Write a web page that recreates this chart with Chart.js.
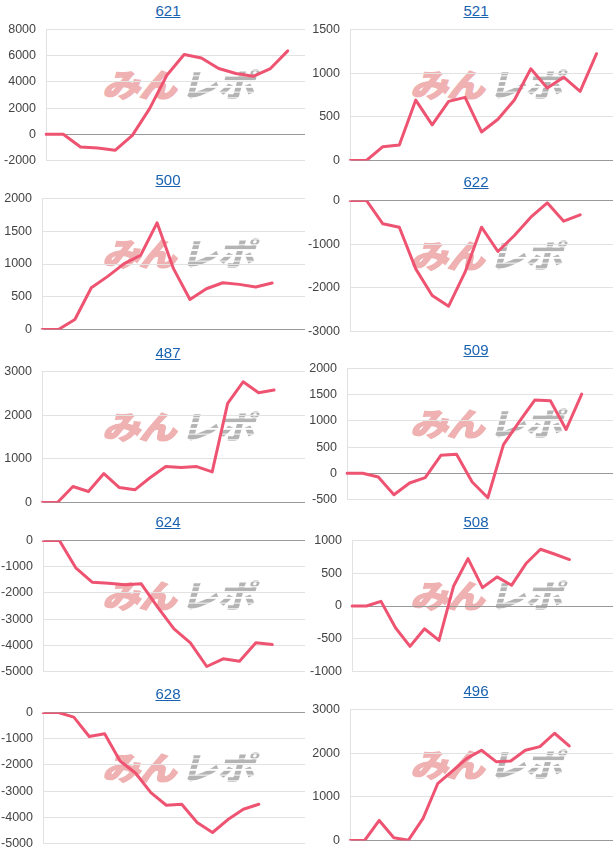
<!DOCTYPE html>
<html><head><meta charset="utf-8">
<script src="https://cdn.jsdelivr.net/npm/chart.js@4"></script>
<style>
html,body{margin:0;padding:0;background:#fff;}
body{width:616px;height:850px;position:relative;overflow:hidden;font-family:"Liberation Sans",Arial,sans-serif;}
.block{position:absolute;width:308px;height:172px;}
.title{position:absolute;left:68px;width:200px;top:2px;text-align:center;font-size:15px;line-height:18px;}
.title a{color:#1a62b0;text-decoration:underline;}
.wm{position:absolute;left:106px;top:65px;font-family:"Noto Sans CJK JP";font-weight:900;font-size:32px;line-height:36px;white-space:nowrap;transform-origin:0 50%;transform:scaleX(1.18) skewX(-13deg);letter-spacing:-1px;}
.wm .a{color:#efb1b1;-webkit-text-stroke:1.2px #efb1b1;}
.wm .b{background:repeating-linear-gradient(to bottom,#b4b4b4 0 4px,rgba(255,255,255,0) 4px 5.5px);-webkit-background-clip:text;background-clip:text;color:transparent;margin-left:4px;}
canvas{position:absolute;left:0;top:12px;}
</style></head>
<body>
<script>
const titles = ['621','521','500','622','487','509','624','508','628','496'];
const days = ['1','2','3','4','5','6','7','8','9','10','11','12','13','14','15','16','17','18','19'];
const catCounts = [16,17,17,17,18,18,17,19,18,19];
const v621 = [0,0,-970,-1045,-1220,-80,1960,4510,6090,5830,5020,4640,4430,5020,6370];
const v521 = [0,0,158,177,692,408,677,723,327,473,692,1050,831,954,792,1223];
const v500 = [0,0,153,638,811,1005,1133,1628,929,459,622,714,689,648,709];
const v622 = [0,0,-534,-611,-1565,-2176,-2420,-1641,-611,-1168,-802,-382,-53,-473,-328];
const v487 = [0,0,366,251,663,343,290,572,823,800,823,701,2270,2765,2514,2575];
const v509 = [0,0,-70,-408,-185,-83,344,363,-166,-466,548,982,1397,1384,835,1511];
const v624 = [0,0,-1043,-1590,-1628,-1692,-1654,-2545,-3372,-3906,-4809,-4517,-4606,-3906,-3969];
const v508 = [0,0,71,-332,-617,-347,-526,301,724,281,444,316,648,867,790,709];
const v628 = [0,0,-178,-914,-812,-1853,-2310,-3058,-3541,-3503,-4201,-4581,-4086,-3693,-3503];
const v496 = [0,0,459,61,8,505,1300,1591,1882,2066,1806,1821,2066,2150,2456,2165];
const yMin = [-2000,0,0,-3000,0,-500,-5000,-1000,-5000,0];
const yMax = [8000,1500,2000,0,3000,2000,0,1000,0,3000];
const yStep = [2000,500,500,1000,1000,500,1000,500,1000,1000];

const series = [v621,v521,v500,v622,v487,v509,v624,v508,v628,v496];
// layout (not data)
const colX = [0,308];
const leftTops = [0,169,342,511,683];
const rightTops = [0,171,339,511,680];
const axisW = [46,42,42,42,42,39,43,44,43,42];

for (let i = 0; i < titles.length; i++) {
  const col = i % 2, row = Math.floor(i / 2);
  const block = document.createElement('div');
  block.className = 'block';
  block.style.left = colX[col] + 'px';
  block.style.top = (col === 0 ? leftTops[row] : rightTops[row]) + 'px';
  block.innerHTML = '<div class="title"><a href="#">' + titles[i] + '</a></div>' +
    '<div class="wm"><span class="a">みん</span><span class="b">レポ</span></div>';
  const cv = document.createElement('canvas');
  cv.width = 308; cv.height = 166;
  block.appendChild(cv);
  document.body.appendChild(block);
  new Chart(cv, {
    type: 'line',
    data: {
      labels: days.slice(0, catCounts[i]),
      datasets: [{
        data: series[i],
        borderColor: '#ee5472',
        borderWidth: 3,
        pointRadius: 0,
        tension: 0,
        fill: false,
        borderJoinStyle: 'round',
        borderCapStyle: 'round'
      }]
    },
    options: {
      responsive: false,
      animation: false,
      events: [],
      layout: { padding: { left: 0, right: 3, top: 0, bottom: 0 } },
      plugins: { legend: { display: false }, tooltip: { enabled: false } },
      scales: {
        x: { type: 'category', display: false, offset: false },
        y: {
          min: yMin[i], max: yMax[i],
          ticks: { stepSize: yStep[i], color: '#444', padding: 10,
                   callback: v => String(v),
                   font: { family: '"Liberation Sans", Arial, sans-serif', size: 12.5 } },
          grid: { drawTicks: false, lineWidth: 1,
                  color: ctx => (ctx.tick && ctx.tick.value === 0) ? '#9a9a9a' : '#e2e2e2' },
          border: { display: true, color: '#e2e2e2' },
          afterFit: s => { s.width = axisW[i]; }
        }
      }
    }
  });
}
</script>
</body></html>
